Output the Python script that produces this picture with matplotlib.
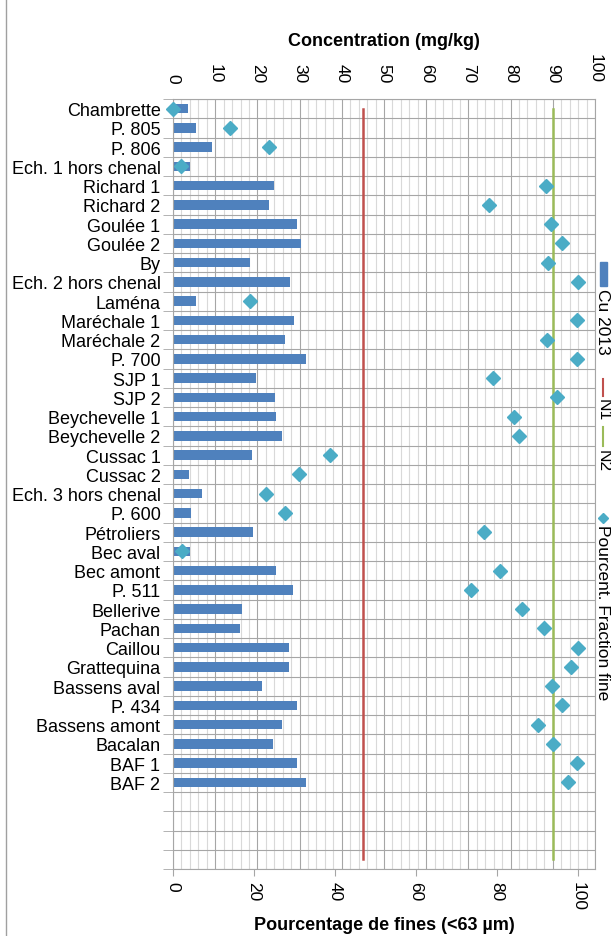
import numpy as np
import matplotlib
matplotlib.use('Agg')
import matplotlib.pyplot as plt
from matplotlib.lines import Line2D
from matplotlib.patches import Rectangle

plt.rcParams['font.family'] = ['Liberation Sans', 'DejaVu Sans']

# Sites (top to bottom), 4 empty slots at the end
sites = ['Chambrette', 'P. 805', 'P. 806', 'Ech. 1 hors chenal', 'Richard 1', 'Richard 2',
         'Goulée 1', 'Goulée 2', 'By', 'Ech. 2 hors chenal', 'Laména', 'Maréchale 1',
         'Maréchale 2', 'P. 700', 'SJP 1', 'SJP 2', 'Beychevelle 1', 'Beychevelle 2',
         'Cussac 1', 'Cussac 2', 'Ech. 3 hors chenal', 'P. 600', 'Pétroliers', 'Bec aval',
         'Bec amont', 'P. 511', 'Bellerive', 'Pachan', 'Caillou', 'Grattequina',
         'Bassens aval', 'P. 434', 'Bassens amont', 'Bacalan', 'BAF 1', 'BAF 2',
         '', '', '', '']

# Cu 2013 concentration (mg/kg)
cu_2013 = [3.6, 5.5, 9.2, 4.0, 24.0, 22.8, 29.3, 30.3, 18.2, 27.8, 5.5, 28.7,
           26.5, 31.4, 19.7, 24.1, 24.5, 25.8, 18.8, 3.9, 6.8, 4.2, 19.0, 4.0,
           24.3, 28.4, 16.4, 15.9, 27.4, 27.6, 21.1, 29.5, 25.8, 23.6, 29.3, 31.5]

# fraction fine (%)
pct_fine = [0.0, 14.1, 23.7, 2.0, 92.0, 78.1, 93.3, 96.1, 92.7, 100.0, 19.0, 99.7,
            92.3, 99.8, 78.9, 94.7, 84.3, 85.5, 38.8, 31.1, 23.0, 27.7, 76.9, 2.1,
            80.8, 73.5, 86.1, 91.7, 100.0, 98.2, 93.7, 96.0, 90.2, 93.9, 99.7, 97.6]

n1 = 45
n2 = 90

blue = '#4f81bd'
red = '#c0504d'
green = '#9bbb59'
cyan = '#4bacc6'

fig = plt.figure(figsize=(6.11, 9.37), dpi=100)
ax = fig.add_axes([173/611, 1 - 870/937, 422/611, 770/937])
ax2 = ax.twiny()

n = len(sites)
y = np.arange(n)

# grid
for v in range(0, 101, 2):
    c = '#a6a6a6' if v % 10 == 0 else '#d9d9d9'
    ax.axvline(v, color=c, lw=0.8, zorder=0)
for b in np.arange(-0.5, n, 1):
    ax.axhline(b, color='#a6a6a6', lw=0.8, zorder=0)

ax.barh(y[:len(cu_2013)], cu_2013, height=0.5, color=blue, zorder=2)
ax.plot([n1] * n, y, color=red, lw=1.8, zorder=3)
ax.plot([n2] * n, y, color=green, lw=1.8, zorder=3)

ax.set_xlim(0, 100)
ax.set_ylim(n - 0.5, -0.5)
ax.set_xticks(range(0, 101, 10))
ax.xaxis.tick_top()
ax.xaxis.set_label_position('top')
ax.tick_params(axis='x', which='both', length=0, labelsize=12.5, labelrotation=-90, pad=12)
ax.set_xlabel('Concentration (mg/kg)', fontsize=13, fontweight='bold', labelpad=6)

ax.set_yticks(y)
ax.set_yticklabels(sites, fontsize=13)
ax.set_yticks(np.arange(-0.5, n, 1), minor=True)
ax.tick_params(axis='y', which='major', length=0, pad=9)
ax.tick_params(axis='y', which='minor', length=7, color='#a6a6a6', direction='out')
for s in ax.spines.values():
    s.set_color('#a6a6a6')
    s.set_linewidth(0.8)

# second axis: percentage of fines
ax2.plot(pct_fine, y[:len(pct_fine)], linestyle='none', marker='D', ms=7.5,
         color=cyan, zorder=4, clip_on=False)
ax2.set_xlim(0, 104.2)
ax2.set_ylim(n - 0.5, -0.5)
ax2.set_xticks(range(0, 101, 20))
ax2.xaxis.tick_bottom()
ax2.xaxis.set_label_position('bottom')
ax2.tick_params(axis='x', length=5, color='#a6a6a6', labelsize=12.5, labelrotation=-90, pad=4)
ax2.set_xlabel('Pourcentage de fines (<63 µm)', fontsize=13, fontweight='bold', labelpad=4)
for s in ax2.spines.values():
    s.set_visible(False)

# vertical legend on the right
lx = 603 / 611
def fy(py):
    return 1 - py / 937

fig.patches.append(Rectangle((600/611, fy(287)), 7/611, 24/937, color=blue,
                             transform=fig.transFigure, figure=fig))
fig.text(lx, fy(289), 'Cu 2013', rotation=-90, ha='center', va='top', fontsize=12.5)
fig.lines.append(Line2D([lx, lx], [fy(380), fy(397)], color=red, lw=1.5,
                        transform=fig.transFigure, figure=fig))
fig.text(lx, fy(399), 'N1', rotation=-90, ha='center', va='top', fontsize=12.5)
fig.lines.append(Line2D([lx, lx], [fy(428), fy(447)], color=green, lw=1.5,
                        transform=fig.transFigure, figure=fig))
fig.text(lx, fy(450), 'N2', rotation=-90, ha='center', va='top', fontsize=12.5)
fig.lines.append(Line2D([lx], [fy(519)], marker='D', ms=5, color=cyan, linestyle='none',
                        transform=fig.transFigure, figure=fig))
fig.text(lx, fy(525), 'Pourcent. Fraction fine', rotation=-90, ha='center', va='top', fontsize=12.5)

# chart border on the left
fig.lines.append(Line2D([6/611, 6/611], [0, 1], color='#a0a0a0', lw=1,
                        transform=fig.transFigure, figure=fig))

fig.savefig('out.png', dpi=100)
